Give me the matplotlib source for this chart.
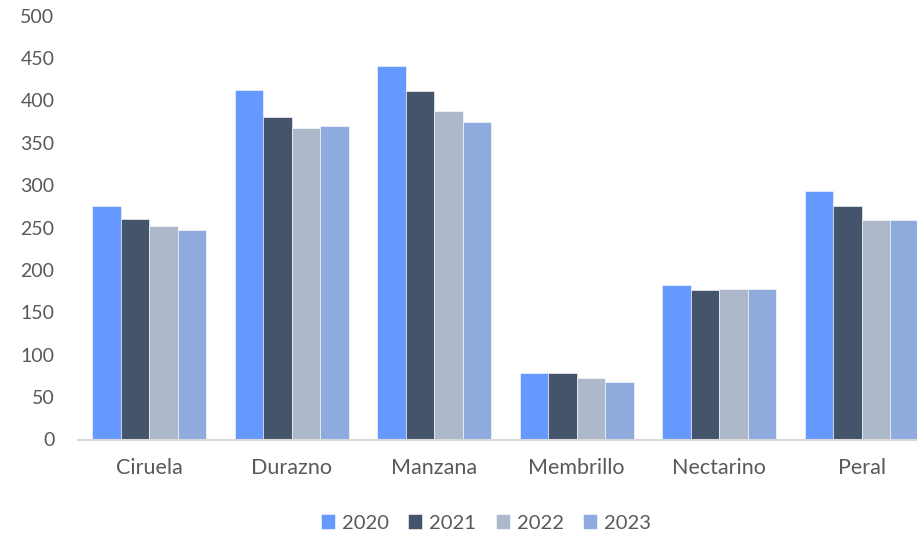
import matplotlib
matplotlib.use("Agg")
import matplotlib.pyplot as plt
import numpy as np

categories = ["Ciruela", "Durazno", "Manzana", "Membrillo", "Nectarino", "Peral"]
years = ["2020", "2021", "2022", "2023"]
v2020 = [275, 412, 441, 79, 182, 293]
v2021 = [260, 381, 411, 78, 176, 276]
v2022 = [252, 367, 387, 73, 178, 259]
v2023 = [247, 370, 374, 68, 177, 259]
series = [v2020, v2021, v2022, v2023]
colors = ["#6699FF", "#44546A", "#ADB9CA", "#8FAADC"]
yticks = [0, 50, 100, 150, 200, 250, 300, 350, 400, 450, 500]

plt.rcParams['font.family'] = ['Lato', 'DejaVu Sans']
W, H = 917, 537
fig = plt.figure(figsize=(W / 100, H / 100), dpi=100)
left, right = 78 / W, 933 / W
bottom, top = (H - 439.5) / H, (H - 15.7) / H
ax = fig.add_axes([left, bottom, right - left, top - bottom])

x = np.arange(len(categories))
bw = 0.2
for i, (vals, c, lab) in enumerate(zip(series, colors, years)):
    ax.bar(x + (i - 1.5) * bw, vals, width=bw, color=c, label=lab,
           edgecolor="white", linewidth=0.4, zorder=2)

ax.set_xlim(-0.5, len(categories) - 0.5)
ax.set_ylim(0, 500)
ax.set_yticks(yticks)
ax.set_xticks(x)
ax.set_xticklabels(categories)
for s in ["top", "right", "left"]:
    ax.spines[s].set_visible(False)
ax.spines["bottom"].set_color("#D9D9D9")
ax.spines["bottom"].set_linewidth(1.5)
ax.tick_params(axis="y", length=0, pad=17, labelsize=14, labelcolor="#595959")
ax.tick_params(axis="x", length=0, pad=13, labelsize=15.5, labelcolor="#595959")

leg = fig.legend(loc="center", bbox_to_anchor=(486 / W, (H - 523) / H), ncol=4,
                 frameon=False, fontsize=14.5, handlelength=0.7, handleheight=0.7,
                 handletextpad=0.35, columnspacing=0.95)
for t in leg.get_texts():
    t.set_color("#595959")

fig.savefig("out.png", dpi=100)
